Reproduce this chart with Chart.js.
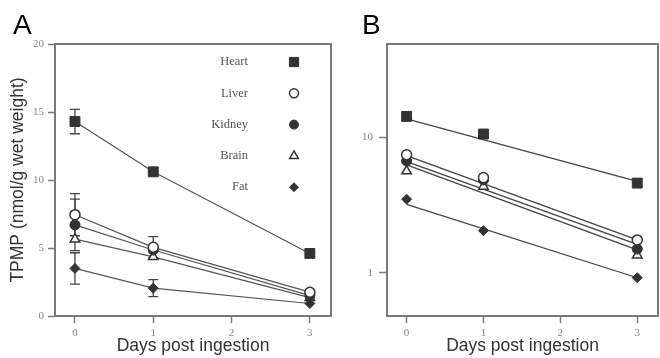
<!DOCTYPE html>
<html>
<head>
<meta charset="utf-8">
<script src="https://cdn.jsdelivr.net/npm/chart.js@4.4.0/dist/chart.umd.min.js"></script>
<style>
body { margin: 0; background: #fff; }
#wrapA { position: absolute; left: 0; top: 0; width: 340px; height: 358px; }
#wrapB { position: absolute; left: 340px; top: 0; width: 320px; height: 358px; }
</style>
</head>
<body>
<div id="wrapA"><canvas id="chartA"></canvas></div>
<div id="wrapB"><canvas id="chartB"></canvas></div>
<script>
// data
var days = [0, 1, 3];
var tissues = ['Heart', 'Liver', 'Kidney', 'Brain', 'Fat'];
var heart = [14.3, 10.6, 4.6];
var liver = [7.45, 5.05, 1.75];
var kidney = [6.7, 4.85, 1.5];
var brain = [5.65, 4.35, 1.35];
var fat = [3.5, 2.05, 0.92];

// error bars (+/-) in panel A, 0 = none drawn
var heartErr = [0.9, 0, 0];
var liverErr = [1.55, 0.78, 0];
var kidneyErr = [1.9, 0, 0];
var brainErr = [0, 0, 0];
var fatErr = [1.15, 0.62, 0];

// fitted exponential lines in panel B, values at day 0 and day 3
var fitDays = [0, 3];
var heartFit = [13.7, 4.73];
var liverFit = [7.35, 1.75];
var kidneyFit = [6.64, 1.62];
var brainFit = [6.27, 1.48];
var fatFit = [3.2, 0.92];

var xTicks = [0, 1, 2, 3];
var yTicksA = [0, 5, 10, 15, 20];
var yTicksB = [1, 10];

var values = [heart, liver, kidney, brain, fat];
var errs = [heartErr, liverErr, kidneyErr, brainErr, fatErr];
var fits = [heartFit, liverFit, kidneyFit, brainFit, fatFit];

var ink = '#333';
var frame = '#7a7a7a';
var styles = [
    { pointStyle: 'rect', radius: 7, bg: ink, bw: 1 },
    { pointStyle: 'circle', radius: 5, bg: '#fff', bw: 1.5 },
    { pointStyle: 'circle', radius: 5, bg: ink, bw: 1 },
    { pointStyle: 'triangle', radius: 5.5, bg: '#fff', bw: 1.5 },
    { pointStyle: 'rectRot', radius: 5, bg: ink, bw: 1 }
];

function pts(xs, ys) {
    return xs.map(function (x, i) { return { x: x, y: ys[i] }; });
}

var tickFont = { family: 'Liberation Serif', size: 11 };
var titleFont = { family: 'Liberation Sans', size: 17.5 };

function xAxis() {
    return {
        type: 'linear', min: -0.255, max: 3.27,
        afterBuildTicks: function (s) { s.ticks = xTicks.map(function (v) { return { value: v }; }); },
        afterFit: function (s) { s.height = 42; },
        ticks: { font: tickFont, color: '#888', padding: 4, callback: function (v) { return String(v); } },
        grid: { drawOnChartArea: false, tickLength: 7, tickColor: frame, tickWidth: 1.5 },
        border: { display: false },
        title: { display: true, text: 'Days post ingestion', font: titleFont, color: '#333', padding: { top: 0, bottom: 1 } }
    };
}

// frame around plot area + panel letter
function framePlugin(letter, lx) {
    return {
        id: 'frame' + letter,
        afterDraw: function (chart) {
            var a = chart.chartArea, ctx = chart.ctx;
            ctx.save();
            ctx.strokeStyle = frame;
            ctx.lineWidth = 2;
            ctx.strokeRect(a.left, a.top, a.right - a.left, a.bottom - a.top);
            ctx.fillStyle = '#000';
            ctx.font = '28px "Liberation Sans"';
            ctx.textBaseline = 'alphabetic';
            ctx.fillText(letter, lx, 34);
            ctx.restore();
        }
    };
}

var errorBars = {
    id: 'errorBars',
    beforeDatasetsDraw: function (chart) {
        var ctx = chart.ctx, xs = chart.scales.x, ys = chart.scales.y;
        ctx.save();
        ctx.strokeStyle = '#444';
        ctx.lineWidth = 1.3;
        errs.forEach(function (e, i) {
            e.forEach(function (d, j) {
                if (!d) return;
                var x = xs.getPixelForValue(days[j]);
                var y1 = ys.getPixelForValue(values[i][j] + d);
                var y2 = ys.getPixelForValue(values[i][j] - d);
                ctx.beginPath();
                ctx.moveTo(x, y1); ctx.lineTo(x, y2);
                ctx.moveTo(x - 5, y1); ctx.lineTo(x + 5, y1);
                ctx.moveTo(x - 5, y2); ctx.lineTo(x + 5, y2);
                ctx.stroke();
            });
        });
        ctx.restore();
    }
};

var legendBox = {
    id: 'legendBox',
    afterDatasetsDraw: function (chart) {
        var ctx = chart.ctx;
        ctx.save();
        ctx.font = '12.5px "Liberation Serif"';
        ctx.textAlign = 'right';
        ctx.textBaseline = 'middle';
        tissues.forEach(function (name, i) {
            var y = 62 + i * 31.3;
            ctx.fillStyle = '#555';
            ctx.fillText(name, 248, y);
            var st = styles[i];
            ctx.fillStyle = st.bg;
            ctx.strokeStyle = ink;
            ctx.lineWidth = st.bw;
            Chart.helpers.drawPoint(ctx, { pointStyle: st.pointStyle, radius: st.radius - 0.5, rotation: 0, borderWidth: st.bw }, 294, y);
        });
        ctx.restore();
    }
};

function markerSet(i, showLine) {
    var st = styles[i];
    return {
        label: tissues[i],
        data: pts(days, values[i]),
        showLine: showLine,
        borderColor: '#555',
        borderWidth: 1.2,
        pointStyle: st.pointStyle,
        pointRadius: st.radius,
        pointBackgroundColor: st.bg,
        pointBorderColor: ink,
        pointBorderWidth: st.bw
    };
}

var dataA = tissues.map(function (t, i) { return markerSet(i, true); });

new Chart(document.getElementById('chartA'), {
    type: 'scatter',
    data: { datasets: dataA },
    options: {
        animation: false,
        responsive: true,
        maintainAspectRatio: false,
        layout: { autoPadding: false, padding: { left: 0, right: 9, top: 44, bottom: 0 } },
        plugins: { legend: { display: false }, tooltip: { enabled: false } },
        scales: {
            x: xAxis(),
            y: {
                type: 'linear', min: 0, max: 20,
                afterBuildTicks: function (s) { s.ticks = yTicksA.map(function (v) { return { value: v }; }); },
                afterFit: function (s) { s.width = 55; },
                ticks: { font: tickFont, color: '#888', padding: 4, callback: function (v) { return String(v); } },
                grid: { drawOnChartArea: false, tickLength: 7, tickColor: frame, tickWidth: 1.5 },
                border: { display: false },
                title: { display: true, text: 'TPMP (nmol/g wet weight)', font: titleFont, color: '#333', padding: { top: 7.5, bottom: 0 } }
            }
        }
    },
    plugins: [errorBars, legendBox, framePlugin('A', 13)]
});

var dataB = tissues.map(function (t, i) { return markerSet(i, false); });
tissues.forEach(function (t, i) {
    dataB.push({
        label: t + ' fit',
        data: pts(fitDays, fits[i]),
        showLine: true,
        borderColor: '#444',
        borderWidth: 1.3,
        pointRadius: 0
    });
});

new Chart(document.getElementById('chartB'), {
    type: 'scatter',
    data: { datasets: dataB },
    options: {
        animation: false,
        responsive: true,
        maintainAspectRatio: false,
        layout: { autoPadding: false, padding: { left: 0, right: 2, top: 44, bottom: 0 } },
        plugins: { legend: { display: false }, tooltip: { enabled: false } },
        scales: {
            x: xAxis(),
            y: {
                type: 'logarithmic', min: 0.48, max: 49,
                afterBuildTicks: function (s) { s.ticks = yTicksB.map(function (v) { return { value: v }; }); },
                afterFit: function (s) { s.width = 47; },
                ticks: { font: tickFont, color: '#888', padding: 6, callback: function (v) { return String(v); } },
                grid: { drawOnChartArea: false, tickLength: 8, tickColor: frame, tickWidth: 1.5 },
                border: { display: false }
            }
        }
    },
    plugins: [framePlugin('B', 22)]
});
</script>
</body>
</html>
